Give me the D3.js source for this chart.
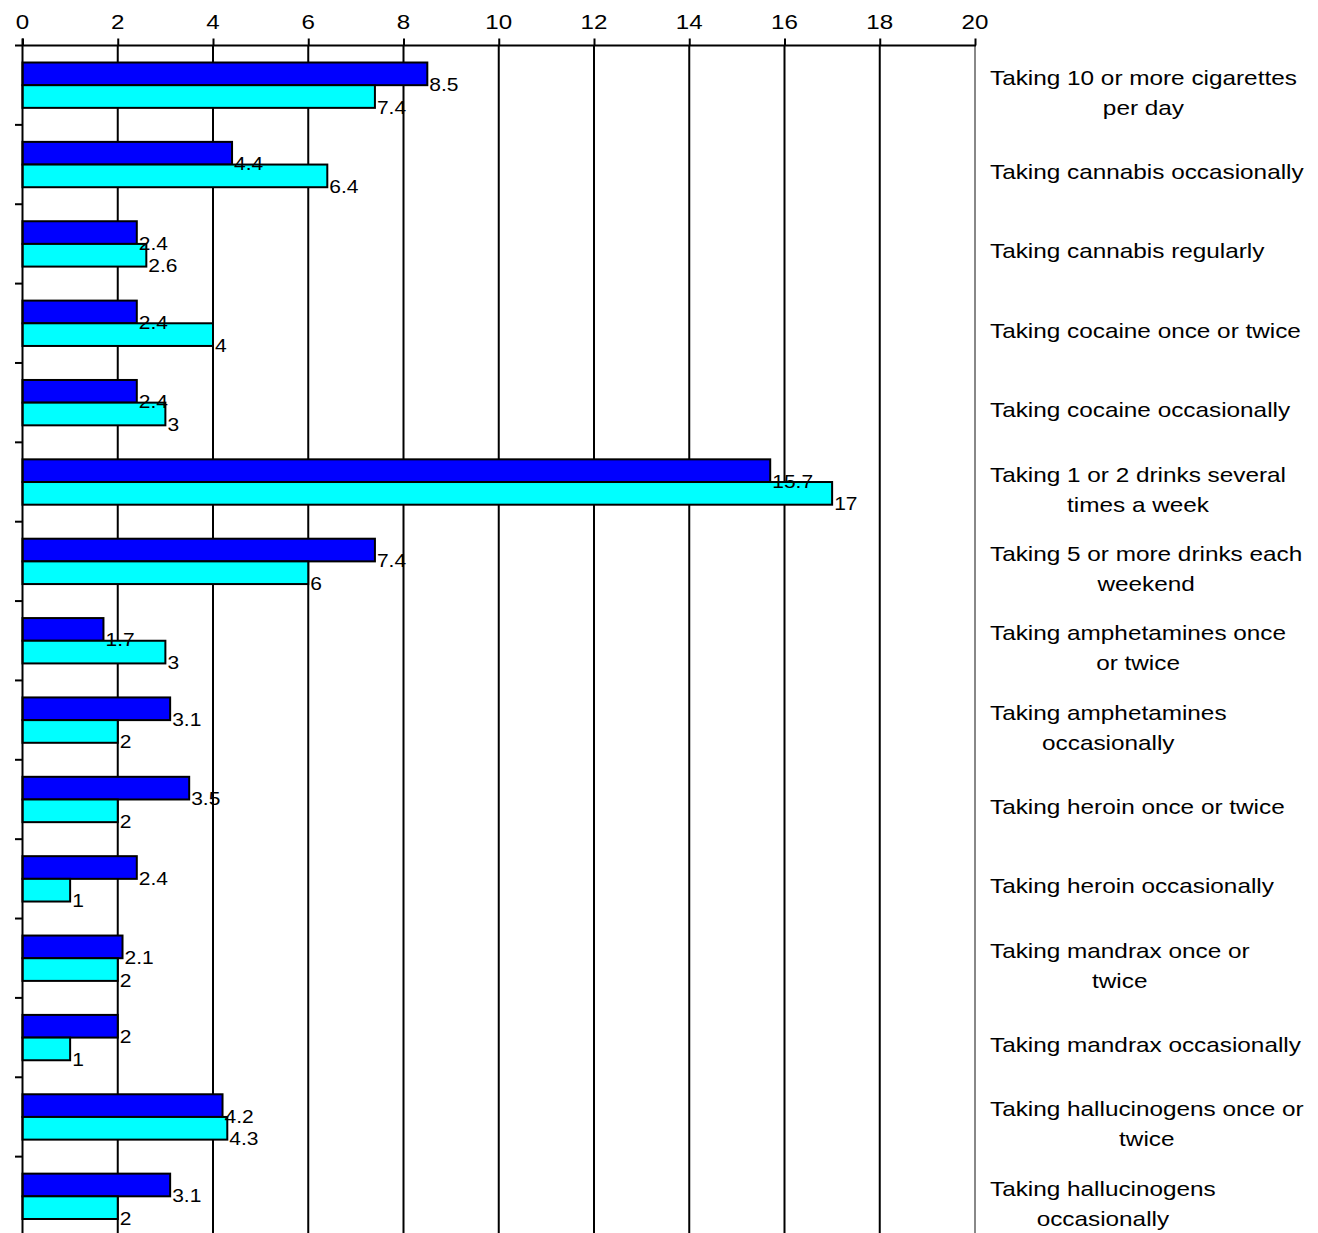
<!DOCTYPE html>
<html>
<head>
<meta charset="utf-8">
<script src="https://cdn.jsdelivr.net/npm/d3@7"></script>
<style>
  html, body { margin: 0; padding: 0; background: #fff; }
  svg { display: block; }
  text { font-family: "Liberation Sans", Arial, sans-serif; fill: #000; }
</style>
</head>
<body>
<svg id="chart" width="1318" height="1233"></svg>
<script>
const categories = [
  "Taking 10 or more cigarettes\nper day",
  "Taking cannabis occasionally",
  "Taking cannabis regularly",
  "Taking cocaine once or twice",
  "Taking cocaine occasionally",
  "Taking 1 or 2 drinks several\ntimes a week",
  "Taking 5 or more drinks each\nweekend",
  "Taking amphetamines once\nor twice",
  "Taking amphetamines\noccasionally",
  "Taking heroin once or twice",
  "Taking heroin occasionally",
  "Taking mandrax once or\ntwice",
  "Taking mandrax occasionally",
  "Taking hallucinogens once or\ntwice",
  "Taking hallucinogens\noccasionally"
];
const seriesA = [8.5, 4.4, 2.4, 2.4, 2.4, 15.7, 7.4, 1.7, 3.1, 3.5, 2.4, 2.1, 2, 4.2, 3.1];
const seriesB = [7.4, 6.4, 2.6, 4, 3, 17, 6, 3, 2, 2, 1, 2, 1, 4.3, 2];
const xTicks = [0, 2, 4, 6, 8, 10, 12, 14, 16, 18, 20];
const seriesColors = ["#0000ff", "#00ffff"];

(function () {
const svg = d3.select("#chart");
const pTop = 45.5, pBottom = 1236, pLeft = 22.5, pRight = 975;

const x = d3.scaleLinear().domain([0, 20]).range([pLeft, pRight]);
const y = d3.scaleBand().domain(d3.range(categories.length)).range([pTop, pBottom]).paddingInner(0).paddingOuter(0);
const barH = y.bandwidth() / 3.5;
const inner = d3.scaleBand().domain([0, 1]).range([0.75 * barH, 2.75 * barH]);

// gridlines
svg.append("g").selectAll("line").data(xTicks.filter(t => t > 0 && t < 20)).join("line")
  .attr("x1", d => x(d)).attr("x2", d => x(d))
  .attr("y1", pTop).attr("y2", pBottom)
  .attr("stroke", "#000").attr("stroke-width", 2);

// right gray axis line
svg.append("line").attr("x1", x(20)).attr("x2", x(20)).attr("y1", pTop).attr("y2", pBottom)
  .attr("stroke", "#888").attr("stroke-width", 2);

// bars
const data = [];
categories.forEach((c, i) => {
  data.push({ i, s: 0, v: seriesA[i] });
  data.push({ i, s: 1, v: seriesB[i] });
});
svg.append("g").selectAll("rect").data(data).join("rect")
  .attr("x", x(0))
  .attr("y", d => y(d.i) + inner(d.s))
  .attr("width", d => x(d.v) - x(0))
  .attr("height", inner.bandwidth())
  .attr("fill", d => seriesColors[d.s])
  .attr("stroke", "#000").attr("stroke-width", 2);

// top axis
const axisTop = d3.axisTop(x).tickValues(xTicks).tickSize(7).tickFormat(d3.format("d"));
const gTop = svg.append("g").attr("transform", `translate(0,${pTop})`).call(axisTop);
gTop.select(".domain").remove();
gTop.selectAll(".tick line").attr("stroke", "#000").attr("stroke-width", 2);
gTop.selectAll(".tick text").remove();
svg.append("line").attr("x1", 15).attr("x2", pRight + 1).attr("y1", pTop).attr("y2", pTop)
  .attr("stroke", "#000").attr("stroke-width", 2);
svg.append("g").selectAll("text").data(xTicks).join("text")
  .attr("transform", d => `translate(${x(d)},28.5) scale(1.15,1)`)
  .attr("text-anchor", "middle")
  .style("font-size", "21px")
  .text(d => d);

// left axis
svg.append("line").attr("x1", pLeft).attr("x2", pLeft).attr("y1", pTop - 7).attr("y2", pBottom)
  .attr("stroke", "#000").attr("stroke-width", 2);
svg.append("g").selectAll("line").data(d3.range(1, categories.length)).join("line")
  .attr("x1", 15).attr("x2", pLeft)
  .attr("y1", d => y(d)).attr("y2", d => y(d))
  .attr("stroke", "#000").attr("stroke-width", 2);

// data labels
svg.append("g").selectAll("text").data(data).join("text")
  .attr("transform", d => `translate(${x(d.v) + 2},${y(d.i) + inner(d.s) + inner.bandwidth() / 2 + 17}) scale(1.2,1)`)
  .style("font-size", "17.5px")
  .text(d => d.v);

// category labels
const gCat = svg.append("g");
categories.forEach((c, i) => {
  const lines = c.split("\n");
  const n = lines.length;
  const cy = y(i) + y.bandwidth() / 2;
  const base = cy + 14.5 - (n - 1) * 15;
  const g = gCat.append("g").attr("transform", `translate(990,${base}) scale(1.187,1)`);
  const texts = lines.map((l, k) => g.append("text").attr("y", k * 30).style("font-size", "20.5px").text(l));
  const widths = texts.map(t => t.node().getComputedTextLength());
  const maxW = d3.max(widths);
  texts.forEach((t, k) => t.attr("x", (maxW - widths[k]) / 2));
});
})();
</script>
</body>
</html>
